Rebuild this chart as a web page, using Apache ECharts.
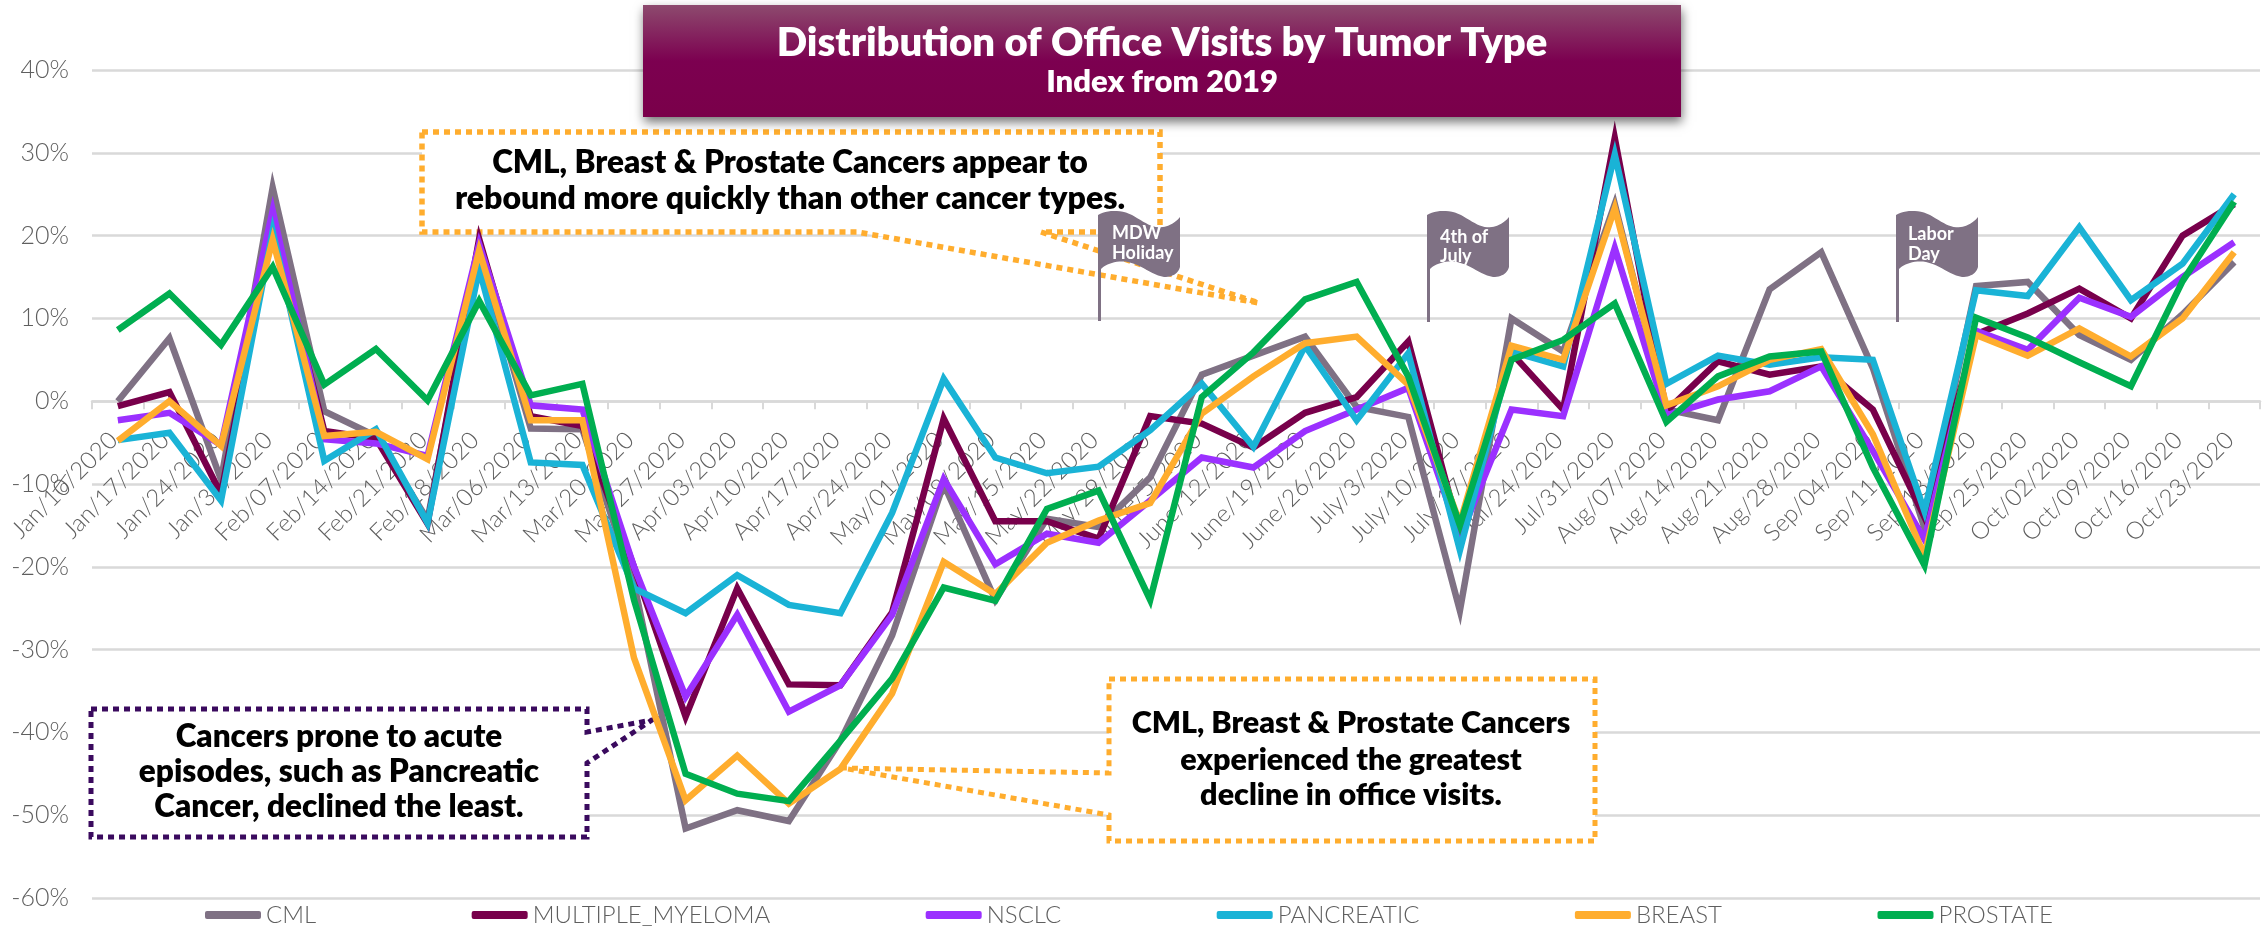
<!DOCTYPE html>
<html><head><meta charset="utf-8">
<style>html,body{margin:0;padding:0;background:#fff}#c{width:2264px;height:927px}</style>
<script src="https://cdn.jsdelivr.net/npm/echarts@6/dist/echarts.min.js"></script>
</head><body><div id="c"></div>
<script>
const categories=["Jan/10/2020","Jan/17/2020","Jan/24/2020","Jan/31/2020","Feb/07/2020","Feb/14/2020","Feb/21/2020","Feb/28/2020","Mar/06/2020","Mar/13/2020","Mar/20/2020","Mar/27/2020","Apr/03/2020","Apr/10/2020","Apr/17/2020","Apr/24/2020","May/01/2020","May/08/2020","May/15/2020","May/22/2020","May/29/2020","June/5/2020","June/12/2020","June/19/2020","June/26/2020","July/3/2020","July/10/2020","July/17/2020","Jul/24/2020","Jul/31/2020","Aug/07/2020","Aug/14/2020","Aug/21/2020","Aug/28/2020","Sep/04/2020","Sep/11/2020","Sep/18/2020","Sep/25/2020","Oct/02/2020","Oct/09/2020","Oct/16/2020","Oct/23/2020"];
const CML=[0,7.6,-9.5,25.8,-1.2,-4.2,-14.3,18,-3.3,-3.4,-22,-51.6,-49.4,-50.7,-41,-28.3,-10,-24,-14.2,-15.2,-9.2,3.2,5.5,7.8,-0.7,-1.9,-25.3,10,6,23.8,-1,-2.3,13.5,18,4,-15.3,13.9,14.4,8,5,10.5,16.8];
const MULTIPLE_MYELOMA=[-0.6,1.1,-11.2,21.5,-3.6,-4.5,-14.8,19.6,-1.8,-3,-20,-38.1,-22.6,-34.2,-34.3,-25.5,-2.1,-14.5,-14.5,-16.6,-1.8,-2.7,-5.6,-1.4,0.5,7.2,-16,5.8,-1,31.8,-1.2,4.8,3.2,4.2,-1,-14,8.1,10.6,13.6,10,20,23.8];
const NSCLC=[-2.3,-1.4,-5.3,23,-4.6,-5.1,-6.6,19,-0.5,-1,-20,-35.7,-25.8,-37.5,-34.3,-25.8,-9.4,-19.7,-16,-17.1,-12,-6.8,-8,-3.6,-1,1.6,-16.5,-1,-1.8,18.5,-1.7,0.2,1.2,4.2,-6,-16.7,8.5,6.2,12.5,10.2,15,19.2];
const PANCREATIC=[-4.7,-3.8,-12,20.5,-7.2,-3.4,-14.7,16,-7.4,-7.7,-22.6,-25.6,-21,-24.6,-25.6,-13.5,2.7,-6.8,-8.7,-7.9,-3.5,2.1,-5.5,6.7,-2.3,5.8,-18,6,4.2,29.8,2.1,5.5,4.4,5.3,5,-13.3,13.4,12.7,21,12.2,16.6,25];
const BREAST=[-4.8,0,-5.4,19.5,-4.2,-3.7,-7,18.2,-2.3,-2.3,-31,-48.2,-42.8,-48.6,-44.4,-35.3,-19.4,-23.3,-17.1,-14.4,-12.3,-1.5,3,7,7.8,2,-14.7,6.7,5,23.3,-0.5,1.8,5,6.3,-4,-18.7,8,5.5,8.8,5.4,10,18];
const PROSTATE=[8.6,13,6.8,16.2,2,6.3,0.1,12.1,0.7,2.1,-24,-45,-47.4,-48.3,-41,-33.5,-22.5,-24.1,-13,-10.8,-24,0.5,5.9,12.3,14.4,3,-15,5,7.4,11.8,-2.5,3,5.4,6,-8,-19.8,10.1,7.7,4.7,1.8,14.5,24.1];
const yTicks={min:-60,max:40,step:10};
const names=["CML","MULTIPLE_MYELOMA","NSCLC","PANCREATIC","BREAST","PROSTATE"];
const values=[CML,MULTIPLE_MYELOMA,NSCLC,PANCREATIC,BREAST,PROSTATE];
const colors=["#7f7184","#78004b","#9b30ff","#1ab3d6","#ffad2e","#00ae50"];
const FONT='Lato, "Open Sans", sans-serif';
const ORANGE="#ffad2e", PURPLE="#3a0a5e", FLAG="#7f7184";

function box(points,color,lw,dash){
  return {type:'polygon',z:1,shape:{points:points},style:{fill:'#fff',stroke:color,lineWidth:lw,lineDash:dash,lineJoin:'miter'},silent:true};
}
function txt(x,y,text,size,fill,weight,align,z){
  return {type:'text',z:z||1,zlevel:0,x:x,y:y,style:{text:text,font:(weight||800)+' '+size+'px '+FONT,fill:fill||'#000',align:align||'center',verticalAlign:'middle'},silent:true};
}
function bez(p0,p1,p2,p3,out){
  for(let k=1;k<=12;k++){const t=k/12,u=1-t;
    out.push([u*u*u*p0[0]+3*u*u*t*p1[0]+3*u*t*t*p2[0]+t*t*t*p3[0],u*u*u*p0[1]+3*u*u*t*p1[1]+3*u*t*t*p2[1]+t*t*t*p3[1]]);}
}
function flag(x0,y0,poleBottom,l1,l2,tx,y1,y2){
  const h=poleBottom-y0, pts=[[0,3]];
  bez([0,3],[9,-2],[22,-3],[34,3],pts);
  bez([34,3],[46,10],[55,17],[65,15],pts);
  bez([65,15],[72,14],[78,10],[82,5],pts);
  pts.push([82,55]);
  bez([82,55],[80,62],[74,65],[66,65],pts);
  bez([66,65],[54,63],[44,53],[30,50],pts);
  bez([30,50],[18,48],[8,52],[3,57],pts);
  pts.push([3,h],[0,h]);
  return [
    {type:'polygon',z:5,x:x0,y:y0,shape:{points:pts},style:{fill:FLAG},silent:true},
    txt(tx,y1,l1,18,'#fff',700,'left',6),
    txt(tx,y2,l2,18,'#fff',700,'left',6)
  ];
}
const graphics=[
  {type:'rect',z:8,shape:{x:643,y:5,width:1038,height:112},
   style:{fill:{type:'linear',x:0,y:0,x2:0,y2:1,colorStops:[{offset:0,color:'#8d4a6e'},{offset:0.5,color:'#7c0050'},{offset:1,color:'#7a004a'}]},shadowBlur:10,shadowOffsetY:5,shadowOffsetX:1,shadowColor:'rgba(0,0,0,0.55)'},silent:true},
  txt(1162,43,'Distribution of Office Visits by Tumor Type',40,'#fff',800,'center',9),
  txt(1162,82,'Index from 2019',31,'#fff',800,'center',9),
  box([[422,132],[1160,132],[1160,232],[1041,232],[1259,303],[857,232],[422,232]],ORANGE,5.5,[6,5]),
  txt(790,163,'CML, Breast & Prostate Cancers appear to',31.5),
  txt(790,199,'rebound more quickly than other cancer types.',32),
  box([[91,709],[587,709],[587,732],[652,720],[587,763],[587,837],[91,837]],PURPLE,5,[6,5]),
  txt(339,737,'Cancers prone to acute',31.5),
  txt(339,772,'episodes, such as Pancreatic',31.5),
  txt(339,807,'Cancer, declined the least.',31.5),
  box([[1109,679],[1595,679],[1595,841],[1109,841],[1109,815],[842,768],[1109,773]],ORANGE,5,[6,5]),
  txt(1351,723,'CML, Breast & Prostate Cancers',30.5),
  txt(1351,760,'experienced the greatest',30.5),
  txt(1351,795,'decline in office visits.',30.5),
  ...flag(1098,212,321,'MDW','Holiday',1112,233,253),
  ...flag(1427,212,322,'4th of','July',1440,237,256),
  ...flag(1896,212,322,'Labor','Day',1908,234,254)
];
const chart=echarts.init(document.getElementById('c'),null,{renderer:'canvas'});
chart.setOption({
  animation:false,
  backgroundColor:'#fff',
  textStyle:{fontFamily:FONT},
  grid:{left:92,right:4,top:70,bottom:29,containLabel:false,outerBoundsMode:'none'},
  legend:{
    data:names.map(n=>({name:n,icon:'roundRect'})),
    left:200,top:898,itemWidth:56,itemHeight:8,itemGap:155.5,
    textStyle:{fontFamily:FONT,fontWeight:300,fontSize:24,color:'#5f5f5f'}
  },
  xAxis:{
    type:'category',data:categories,boundaryGap:true,
    axisLine:{onZero:true,lineStyle:{color:'#d9d9d9',width:2.5}},
    axisTick:{show:true,length:8,lineStyle:{color:'#d9d9d9',width:2}},
    axisLabel:{interval:0,rotate:45,margin:-466,padding:[0,6,0,0],fontFamily:FONT,fontWeight:300,fontSize:24,color:'#5f5f5f',hideOverlap:false},
    splitLine:{show:false}
  },
  yAxis:{
    type:'value',min:yTicks.min,max:yTicks.max,interval:yTicks.step,
    axisLine:{show:false},axisTick:{show:false},
    axisLabel:{formatter:'{value}%',margin:23,fontFamily:FONT,fontWeight:300,fontSize:25,color:'#5f5f5f'},
    splitLine:{show:true,lineStyle:{color:'#d9d9d9',width:2.5}}
  },
  series:names.map((n,i)=>({
    name:n,type:'line',data:values[i],symbol:'none',smooth:false,z:2,
    lineStyle:{color:colors[i],width:6.5,join:'miter',cap:'butt',miterLimit:10},
    itemStyle:{color:colors[i]}
  })),
  graphic:graphics
});
</script></body></html>
